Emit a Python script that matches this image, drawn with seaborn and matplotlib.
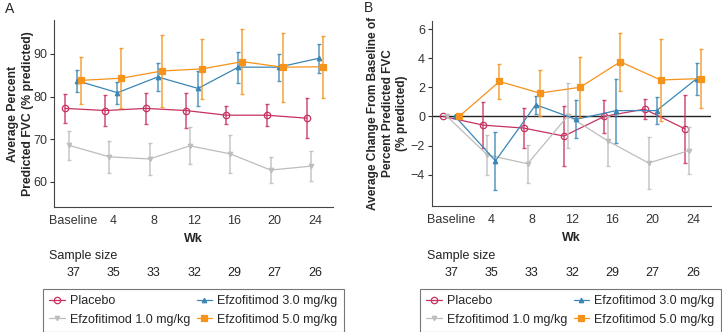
import numpy as np
import pandas as pd
import seaborn as sns
import matplotlib.pyplot as plt
from matplotlib import transforms

weeks = [0, 4, 8, 12, 16, 20, 24]
week_labels = ["Baseline", "4", "8", "12", "16", "20", "24"]
sample_size = [37, 35, 33, 32, 29, 27, 26]
groups = ["Placebo", "Efzofitimod 1.0 mg/kg", "Efzofitimod 3.0 mg/kg", "Efzofitimod 5.0 mg/kg"]

# panel A: average percent predicted FVC (mean, +/- error)
a_placebo = [77.2, 76.7, 77.2, 76.7, 75.6, 75.6, 74.9]
a_placebo_err = [3.35, 3.6, 3.7, 4.2, 2.15, 2.55, 4.7]
a_efz1 = [68.5, 65.8, 65.3, 68.4, 66.5, 62.7, 63.6]
a_efz1_err = [3.4, 3.8, 3.7, 4.35, 4.4, 3.15, 3.5]
a_efz3 = [83.7, 80.9, 84.6, 81.9, 86.9, 86.9, 89.0]
a_efz3_err = [2.55, 2.6, 3.35, 4.1, 3.65, 3.15, 3.4]
a_efz5 = [83.8, 84.3, 86.0, 86.5, 88.2, 86.9, 87.0]
a_efz5_err = [5.5, 7.0, 8.5, 7.1, 7.65, 8.15, 7.25]

# panel B: change from baseline
b_placebo = [0, -0.6, -0.8, -1.35, 0.0, 0.5, -0.85]
b_placebo_err = [0, 1.6, 1.4, 2.05, 1.15, 0.7, 2.35]
b_efz1 = [0, -2.65, -3.25, 0.05, -1.7, -3.2, -2.35]
b_efz1_err = [0, 1.35, 1.3, 2.25, 1.7, 1.8, 1.6]
b_efz3 = [0, -3.05, 0.8, -0.2, 0.4, 0.4, 2.6]
b_efz3_err = [0, 2.0, 0.6, 1.3, 2.2, 0.9, 1.1]
b_efz5 = [0, 2.4, 1.6, 2.0, 3.75, 2.5, 2.6]
b_efz5_err = [0, 1.2, 1.6, 2.05, 2.0, 2.8, 2.0]

colors = ["#C8315F", "#BDBDBD", "#3A86B6", "#F5931A"]
markers = ["o", "v", "^", "s"]
msizes = [4.6, 3.2, 3.2, 4.4]
offsets = [-0.8, -0.4, 0.4, 0.8]

sns.set_theme(style="ticks")
plt.rcParams['font.family'] = ['Liberation Sans', 'DejaVu Sans']
plt.rcParams['axes.edgecolor'] = '#444444'
plt.rcParams['xtick.color'] = '#333333'
plt.rcParams['ytick.color'] = '#333333'

fig = plt.figure(figsize=(7.22, 3.32), dpi=100)
axA = fig.add_axes([54/722, 1-207/332, (333-54)/722, (207-20)/332])
axB = fig.add_axes([432/722, 1-206/332, (711-432)/722, (206-21)/332])


def draw(ax, series, errs):
    rows = []
    for g, vals, ee, off in zip(groups, series, errs, offsets):
        for w, v, e in zip(weeks, vals, ee):
            rows.append({"group": g, "x": w + off, "val": v, "err": e})
    df = pd.DataFrame(rows)
    for i, g in enumerate(groups):
        d = df[df.group == g]
        de = d[d.err > 0]
        ax.errorbar(de.x, de.val, yerr=de.err, fmt='none', ecolor=colors[i],
                    elinewidth=1.1, capsize=1.6, capthick=1.0, alpha=0.85, zorder=2 + i)
        sns.lineplot(data=d, x="x", y="val", color=colors[i], marker=markers[i],
                     markersize=msizes[i], lw=0.9,
                     markerfacecolor="none" if i == 0 else colors[i],
                     markeredgecolor=colors[i], markeredgewidth=0.9,
                     label=g, ax=ax, zorder=3 + i)
    ax.set_xticks(weeks)
    ax.set_xticklabels(week_labels, fontsize=9)
    ax.tick_params(axis='x', length=0, pad=6)
    ax.tick_params(axis='y', length=3, width=0.8, labelsize=9, pad=2)
    ax.set_xlim(-1.9, 25.8)
    ax.set_xlabel("Wk", fontsize=9, fontweight="bold", labelpad=4)
    sns.despine(ax=ax)
    for s in ax.spines.values():
        s.set_linewidth(0.8)
    # sample size rows below the axis
    tr = transforms.blended_transform_factory(ax.transData, fig.transFigure)
    ax.text(-2.4, 1 - 256/332, "Sample size", transform=tr, fontsize=9,
            ha="left", va="center", color="#222222")
    for w, n in zip(weeks, sample_size):
        ax.text(w, 1 - 273/332, str(n), transform=tr, fontsize=9,
                ha="center", va="center", color="#222222")
    handles, labels = ax.get_legend_handles_labels()
    if ax.get_legend() is not None:
        ax.get_legend().remove()
    return handles, labels


hA, lA = draw(axA, [a_placebo, a_efz1, a_efz3, a_efz5],
              [a_placebo_err, a_efz1_err, a_efz3_err, a_efz5_err])
axA.set_ylim(54, 98)
axA.set_yticks([60, 70, 80, 90])
axA.set_ylabel("Average Percent\nPredicted FVC (% predicted)", fontsize=8.8,
               fontweight="bold", labelpad=-0.5, linespacing=1.3)

hB, lB = draw(axB, [b_placebo, b_efz1, b_efz3, b_efz5],
              [b_placebo_err, b_efz1_err, b_efz3_err, b_efz5_err])
axB.axhline(0, color="#222222", lw=1.0, zorder=1)
axB.set_ylim(-6.15, 6.55)
axB.set_yticks([-4, -2, 0, 2, 4, 6])
axB.set_ylabel("Average Change From Baseline of\nPercent Predicted FVC\n(% predicted)",
               fontsize=8.6, fontweight="bold", labelpad=1.7, linespacing=1.3)

for h, x0 in [(hA, 43), (hB, 420)]:
    leg = fig.legend(h, groups, loc="upper left", ncol=2,
                     bbox_to_anchor=(x0/722, 1 - 289/332),
                     fontsize=9, frameon=True, fancybox=False, handlelength=1.25,
                     handletextpad=0.4, columnspacing=0.5, borderpad=0.5,
                     labelspacing=0.5, borderaxespad=0)
    leg.get_frame().set_edgecolor("#555555")
    leg.get_frame().set_linewidth(0.8)

fig.text(5/722, 1 - 9/332, "A", fontsize=10, ha="left", va="center")
fig.text(364/722, 1 - 8/332, "B", fontsize=10, ha="left", va="center")

plt.savefig("out.png", dpi=100, facecolor="w")
